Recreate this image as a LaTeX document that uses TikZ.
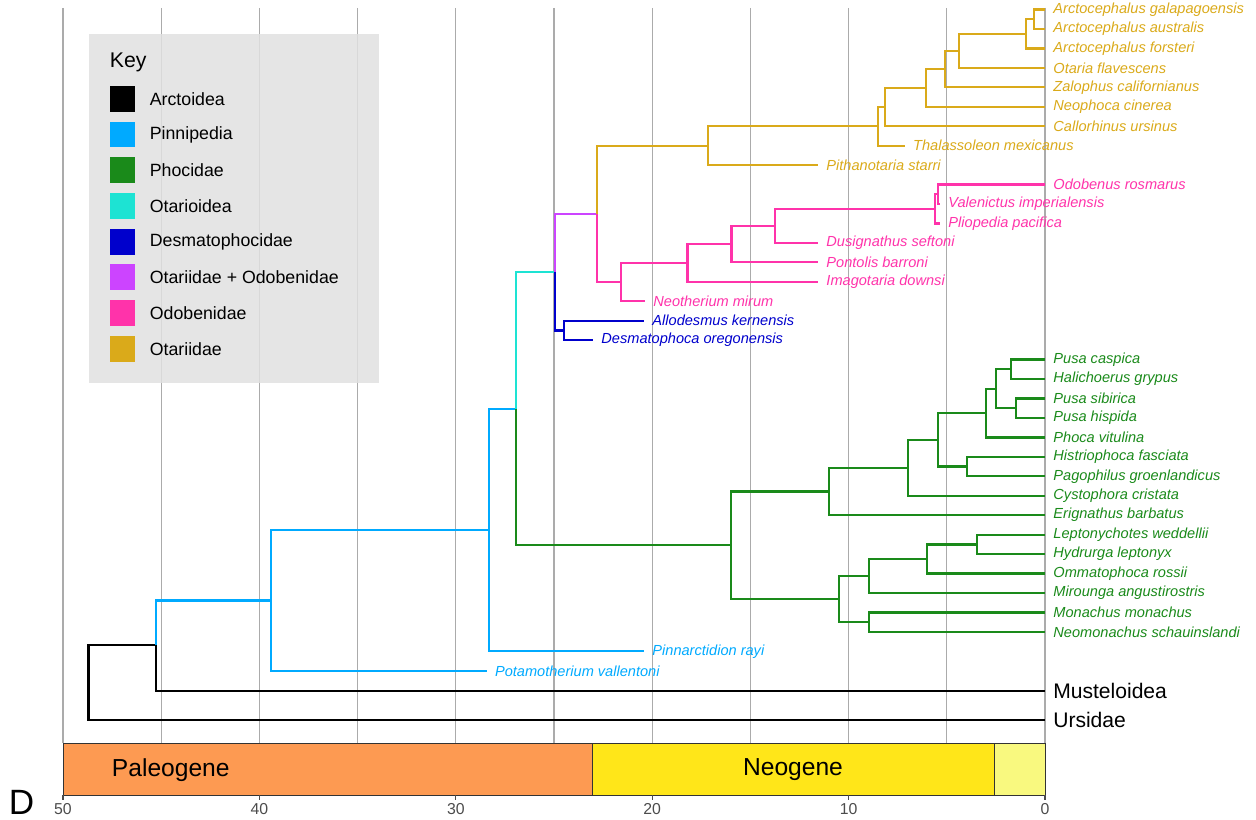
\documentclass[tikz,border=0pt]{standalone}
\usepackage{fontspec}
\setmainfont{Liberation Sans}
\usepackage{tikz}

\definecolor{arctcol}{HTML}{000000}
\definecolor{pinncol}{HTML}{00AAFF}
\definecolor{phoccol}{HTML}{1A8A1A}
\definecolor{otarioidcol}{HTML}{1DE3D3}
\definecolor{desmcol}{HTML}{0000CC}
\definecolor{otaodocol}{HTML}{CC44FF}
\definecolor{odobcol}{HTML}{FF33AA}
\definecolor{otarcol}{HTML}{DAAA1A}
\definecolor{paleocol}{HTML}{FD9A52}
\definecolor{neocol}{HTML}{FFE619}
\definecolor{quatcol}{HTML}{F9F97F}

\tikzset{
  branch/.style={line width=1.3pt},
  tip/.style={anchor=west, inner xsep=4.6pt, inner ysep=0pt, font=\fontsize{8.3}{10}\selectfont\itshape},
  outgroup/.style={anchor=west, inner xsep=4.5pt, inner ysep=0pt, font=\fontsize{12}{14}\selectfont},
  keytext/.style={anchor=west, inner sep=0pt, font=\fontsize{10.1}{12}\selectfont},
}

\begin{document}
\begin{tikzpicture}[x=0.02cm, y=-0.02cm]
\useasboundingbox (0,0) rectangle (1256,820);
% time grid, one line every 5 Ma
\foreach \t in {0,5,...,50}
 \draw[black!33, line width=0.7pt] ({1045-19.64*\t},8) -- ({1045-19.64*\t},743);

% key
\fill[black!12, fill opacity=0.85] (89,34) rectangle (379,383);
\node[keytext, font=\fontsize{12.1}{14}\selectfont] (key) at (109.5,62.5) {Key};
\foreach \col/\txt [count=\i] in {arctcol/Arctoidea, pinncol/Pinnipedia, phoccol/Phocidae,
  otarioidcol/Otarioidea, desmcol/Desmatophocidae, otaodocol/Otariidae + Odobenidae,
  odobcol/Odobenidae, otarcol/Otariidae} {
 \fill[\col] (109.5,{86+35.7*(\i-1)}) rectangle ++(25.8,25.8);
 \node[keytext] (key\i) at (149.5,{98.9+35.7*(\i-1)}) {\txt};
}

% tips
\foreach \nm/\x/\r/\col/\txt in {
  agal/1045/0/otarcol/Arctocephalus galapagoensis,
  aaus/1045/1/otarcol/Arctocephalus australis,
  afor/1045/2/otarcol/Arctocephalus forsteri,
  ofla/1045/3/otarcol/Otaria flavescens,
  zcal/1045/4/otarcol/Zalophus californianus,
  ncin/1045/5/otarcol/Neophoca cinerea,
  curs/1045/6/otarcol/Callorhinus ursinus,
  tmex/904.7/7/otarcol/Thalassoleon mexicanus,
  psta/818/8/otarcol/Pithanotaria starri,
  oros/1045/9/odobcol/Odobenus rosmarus,
  vimp/940/10/odobcol/Valenictus imperialensis,
  ppac/940/11/odobcol/Pliopedia pacifica,
  dsef/818/12/odobcol/Dusignathus seftoni,
  pbar/818/13/odobcol/Pontolis barroni,
  idow/818/14/odobcol/Imagotaria downsi,
  nmir/645/15/odobcol/Neotherium mirum,
  aker/644/16/desmcol/Allodesmus kernensis,
  dore/593/17/desmcol/Desmatophoca oregonensis,
  pcas/1045/18/phoccol/Pusa caspica,
  hgry/1045/19/phoccol/Halichoerus grypus,
  psib/1045/20/phoccol/Pusa sibirica,
  phis/1045/21/phoccol/Pusa hispida,
  pvit/1045/22/phoccol/Phoca vitulina,
  hfas/1045/23/phoccol/Histriophoca fasciata,
  pgro/1045/24/phoccol/Pagophilus groenlandicus,
  ccri/1045/25/phoccol/Cystophora cristata,
  ebar/1045/26/phoccol/Erignathus barbatus,
  lwed/1045/27/phoccol/Leptonychotes weddellii,
  hlep/1045/28/phoccol/Hydrurga leptonyx,
  orsi/1045/29/phoccol/Ommatophoca rossii,
  mang/1045/30/phoccol/Mirounga angustirostris,
  mmon/1045/31/phoccol/Monachus monachus,
  nsch/1045/32/phoccol/Neomonachus schauinslandi,
  pray/644/33/pinncol/Pinnarctidion rayi,
  pval/486.6/34/pinncol/Potamotherium vallentoni}
 \node[tip, text=\col] (\nm) at (\x,{9.5+19.45*\r}) {\txt};
\node[outgroup] (must) at (1045,691) {Musteloidea};
\node[outgroup] (urs) at (1045,720) {Ursidae};

% internal nodes
\coordinate (root) at (88.5,682.7);
\coordinate (arct) at (155.7,645.3);
\coordinate (pinn) at (271,600.4);
\coordinate (pinnB) at (489,530.1);
\coordinate (crown) at (516,408.8);
\coordinate (otarioid) at (555,272.2);
\coordinate (otaodo) at (597,213.9);
\coordinate (desm) at (564,330.4);
\coordinate (otar) at (707.7,145.7);
\coordinate (otarB) at (877.8,126.35);
\coordinate (otarC) at (885.2,107.05);
\coordinate (otarD) at (926.3,87.9);
\coordinate (otarE) at (945,69.05);
\coordinate (otarF) at (959.2,50.8);
\coordinate (otarG) at (1025.9,33.8);
\coordinate (otarH) at (1033.7,19.23);
\coordinate (odo) at (621.1,282.1);
\coordinate (odoB) at (687.4,263);
\coordinate (odoC) at (731.5,244.1);
\coordinate (odoD) at (774.8,225.9);
\coordinate (odoE) at (935.3,208.9);
\coordinate (odoF) at (937.8,194.3);
\coordinate (phoc) at (730.7,545.3);
\coordinate (phocin) at (829,491.5);
\coordinate (phocA) at (907.7,467.8);
\coordinate (phocB) at (937.7,439.9);
\coordinate (phocC) at (986,413.1);
\coordinate (phocD) at (996,388.8);
\coordinate (phocE) at (1011,369.3);
\coordinate (phocF) at (1016,408.2);
\coordinate (phocG) at (967.3,466.6);
\coordinate (monach) at (839.3,599.1);
\coordinate (monA) at (868.7,576);
\coordinate (monB) at (927.3,559);
\coordinate (monC) at (977.3,544.4);
\coordinate (monD) at (868.7,622.2);

% branches, coloured by clade
\foreach \a/\b in {root/arct, root/urs, arct/must}
 \draw[branch, arctcol] (\a) |- (\b);
\foreach \a/\b in {arct/pinn, pinn/pinnB, pinn/pval, pinnB/crown, pinnB/pray}
 \draw[branch, pinncol] (\a) |- (\b);
\draw[branch, otarioidcol] (crown) |- (otarioid);
\draw[branch, otaodocol] (otarioid) |- (otaodo);
\foreach \a/\b in {otarioid/desm, desm/aker, desm/dore}
 \draw[branch, desmcol] (\a) |- (\b);
\foreach \a/\b in {otaodo/otar, otar/otarB, otar/psta, otarB/otarC, otarB/tmex,
  otarC/otarD, otarC/curs, otarD/otarE, otarD/ncin, otarE/otarF, otarE/zcal,
  otarF/otarG, otarF/ofla, otarG/otarH, otarG/afor, otarH/agal, otarH/aaus}
 \draw[branch, otarcol] (\a) |- (\b);
\foreach \a/\b in {otaodo/odo, odo/odoB, odo/nmir, odoB/odoC, odoB/idow, odoC/odoD,
  odoC/pbar, odoD/odoE, odoD/dsef, odoE/odoF, odoE/ppac, odoF/oros, odoF/vimp}
 \draw[branch, odobcol] (\a) |- (\b);
\foreach \a/\b in {crown/phoc, phoc/phocin, phoc/monach, phocin/phocA, phocin/ebar,
  phocA/phocB, phocA/ccri, phocB/phocC, phocB/phocG, phocG/hfas, phocG/pgro,
  phocC/phocD, phocC/pvit, phocD/phocE, phocD/phocF, phocE/pcas, phocE/hgry,
  phocF/psib, phocF/phis, monach/monA, monach/monD, monA/monB, monA/mang,
  monB/monC, monB/orsi, monC/lwed, monC/hlep, monD/mmon, monD/nsch}
 \draw[branch, phoccol] (\a) |- (\b);

% geological time bar
\draw[black!80, fill=paleocol] (63,743) rectangle (592.7,795);
\draw[black!80, fill=neocol] (592.7,743) rectangle (994.3,795);
\draw[black!80, fill=quatcol] (994.3,743) rectangle (1045,795);
\node[font=\fontsize{14}{16}\selectfont] (paleo) at (170.8,770) {Paleogene};
\node[font=\fontsize{14}{16}\selectfont] (neo) at (793,770) {Neogene};
\foreach \t in {0,10,...,50}
 \draw[black!70, line width=0.6pt] ({1045-19.64*\t},795) --++(0,5)
  node[below, inner sep=1.5pt, text=black!70, font=\fontsize{9}{10}\selectfont] {\t};
\node[font=\fontsize{20}{22}\selectfont] (panel) at (21.5,802) {D};
\end{tikzpicture}
\end{document}
